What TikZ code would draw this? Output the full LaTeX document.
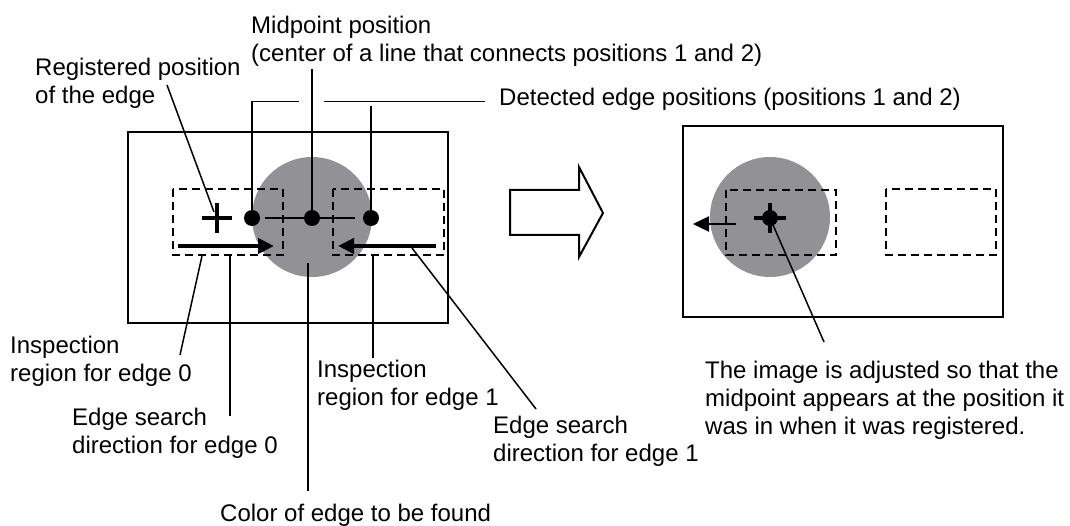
\documentclass[tikz,border=0pt]{standalone}
\usepackage{fontspec}
\setmainfont{Liberation Sans}
\usetikzlibrary{arrows.meta}
\definecolor{discgray}{RGB}{145,145,150}
\begin{document}
\begin{tikzpicture}[x=1pt,y=-1pt,
  lbl/.style={font=\fontsize{24}{28}\selectfont, inner sep=0pt, anchor=base west, align=left},
  frame/.style={draw, line width=2pt},
  disc/.style={fill=discgray},
  region/.style={draw, line width=2pt, dash pattern=on 8pt off 5pt},
  leader/.style={draw, line width=1.5pt},
  dot/.style={circle, fill=black, inner sep=0pt, minimum size=16pt},
  thickarrow/.style={line width=4.5pt, -{Triangle[length=16pt,width=15pt]}},
  thinarrow/.style={line width=2.5pt, -{Triangle[length=16pt,width=15pt]}},
  crossline/.style={line width=4pt},
  bigarrow/.style={draw, line width=2pt, fill=white, line join=miter},
]
\useasboundingbox (0,0) rectangle (1070,526);

% ---------- labels (anchor = baseline of last line) ----------
\node[lbl] (reg) at (35,104) {Registered position\\of the edge};
\node[lbl] (mid) at (251,62) {Midpoint position\\(center of a line that connects positions 1 and 2)};
\node[lbl] (det) at (499,106) {Detected edge positions (positions 1 and 2)};
\node[lbl] (insp0) at (10,381) {Inspection\\region for edge 0};
\node[lbl] (esd0) at (72,453) {Edge search\\direction for edge 0};
\node[lbl] (insp1) at (317,405) {Inspection\\region for edge 1};
\node[lbl] (esd1) at (493,461) {Edge search\\direction for edge 1};
\node[lbl] (color) at (220,521) {Color of edge to be found};
\node[lbl] (adj) at (705,434) {The image is adjusted so that the\\midpoint appears at the position it\\was in when it was registered.};

% ---------- left panel ----------
\draw[frame] (128,132) rectangle (448,323);
\fill[disc] (312,217) circle (60);
\draw[region] (173,189) rectangle (283,255);
\draw[region] (333,189) rectangle (444,255);

% coordinates
\coordinate (regEnd) at (167,85);
\coordinate (crossTL) at (214,212);
\coordinate (lcorner) at (252,101.7);
\coordinate (lend) at (299,101.7);
\coordinate (midTop) at (312,69);
\coordinate (rstart) at (324,101.7);
\coordinate (rend) at (485,101.7);
\coordinate (rvTop) at (371,106);

% dots
\node[dot] (d1) at (252,218) {};
\node[dot] (d2) at (312,218) {};
\node[dot] (d3) at (371,218) {};

% leaders (top)
\draw[leader] (regEnd) -- (crossTL);
\draw[leader] (d1.center) -- (lcorner) -- (lend);
\draw[leader] (d2.center) -- (midTop);
\draw[leader] (d3.center) -- (rvTop);
\draw[leader] (rstart) -- (rend);
\draw[leader, shorten <=5pt, shorten >=8pt] (d1) -- (d3);

% cross (registered position)
\coordinate (cross) at (217,218);
\draw[crossline] (202,218) -- (232,218);
\draw[crossline] (217,203.5) -- (217,233);

% search arrows
\coordinate (a0s) at (178,246);
\coordinate (a0e) at (274,246);
\coordinate (a1s) at (436,246);
\coordinate (a1e) at (338,246);
\draw[thickarrow] (a0s) -- (a0e);
\draw[thickarrow] (a1s) -- (a1e);

% leaders (bottom)
\draw[leader] (202,256) -- (180,355);
\draw[leader] (230,256) -- (230,416);
\draw[leader] (308,263) -- (308,491);
\draw[leader] (373,255) -- (373,358);
\draw[leader] (412,248) -- (536,409);

% ---------- big hollow arrow ----------
\draw[bigarrow] (510,190) -- (579,190) -- (579,167) -- (603,213) -- (579,257) -- (579,235) -- (510,235) -- cycle;

% ---------- right panel ----------
\draw[frame] (683,126) rectangle (1003,317);
\fill[disc] (770,217) circle (60);
\draw[region] (726,190) rectangle (836,255);
\draw[region] (886,189) rectangle (996,255);
\coordinate (sas) at (736,224);
\coordinate (sae) at (693,224);
\draw[thinarrow] (sas) -- (sae);
\coordinate (adjEnd) at (824,342);
\node[dot] (d4) at (770,218) {};
\draw[leader] (d4.center) -- (adjEnd);
\draw[crossline] (754,218) -- (786,218);
\draw[crossline] (770,203) -- (770,233);
\end{tikzpicture}
\end{document}
